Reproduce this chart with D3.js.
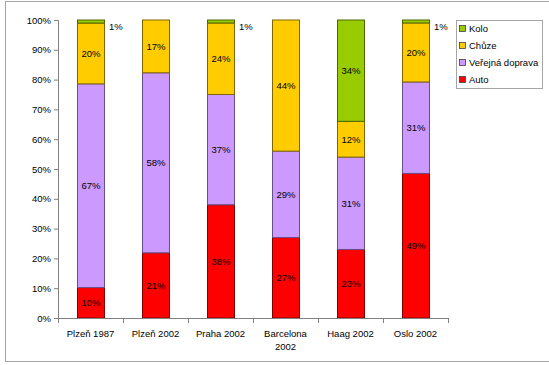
<!DOCTYPE html>
<html>
<head>
<meta charset="utf-8">
<script src="https://cdn.jsdelivr.net/npm/d3@7"></script>
<style>
  body { margin: 0; background: #fff; }
  text { font-family: "Liberation Sans", Arial, sans-serif; font-size: 9.5px; fill: #000; }
</style>
</head>
<body>
<div id="chart"></div>
<script>
// data
var cities = ["Plzeň 1987", "Plzeň 2002", "Praha 2002", "Barcelona 2002", "Haag 2002", "Oslo 2002"];
var series = ["Auto", "Veřejná doprava", "Chůze", "Kolo"];
var auto    = [10, 21, 38, 27, 23, 49];
var verejna = [67, 58, 37, 29, 31, 31];
var chuze   = [20, 17, 24, 44, 12, 20];
var kolo    = [1, 0, 1, 0, 34, 1];
var yTicks  = [0, 0.1, 0.2, 0.3, 0.4, 0.5, 0.6, 0.7, 0.8, 0.9, 1];

var colors = ["#ff0000", "#cc99ff", "#ffcc00", "#99cc00"];
var strokes = ["#800000", "#66508a", "#806600", "#4d6600"];

var W = 549, H = 365;
var margin = {top: 20, left: 58, right: 101, bottom: 47};
var width = W - margin.left - margin.right,
    height = H - margin.top - margin.bottom;

var table = cities.map(function(c, i) {
  return {city: c, "Auto": auto[i], "Veřejná doprava": verejna[i], "Chůze": chuze[i], "Kolo": kolo[i]};
});

var stack = d3.stack().keys(series).offset(d3.stackOffsetExpand);
var layers = stack(table);

var x = d3.scaleBand().domain(cities).range([0, width]).paddingInner(0.585).paddingOuter(0.2925);
var y = d3.scaleLinear().domain([0, 1]).range([height, 0]);

var svg = d3.select("#chart").append("svg")
    .attr("width", W)
    .attr("height", H);

// outer frame
svg.append("rect")
    .attr("x", 5.5).attr("y", 1.5)
    .attr("width", 560).attr("height", 360)
    .attr("fill", "none").attr("stroke", "#a6a6a6");

var g = svg.append("g")
    .attr("transform", "translate(" + margin.left + "," + margin.top + ")");

// bars
var layer = g.selectAll(".layer")
    .data(layers)
    .enter().append("g")
    .attr("class", "layer");

layer.selectAll("rect")
    .data(function(d, i) { return d.map(function(p) { return {p: p, i: i}; }); })
    .enter().append("rect")
    .attr("x", function(d) { return Math.round(x(d.p.data.city)) + 0.5; })
    .attr("width", Math.round(x.bandwidth()))
    .attr("y", function(d) { return y(d.p[1]); })
    .attr("height", function(d) { return y(d.p[0]) - y(d.p[1]); })
    .attr("fill", function(d) { return colors[d.i]; })
    .attr("stroke", function(d) { return strokes[d.i]; })
    .attr("stroke-width", function(d) { return d.p[1] - d.p[0] > 0 ? 1 : 0; });

// value labels
layer.selectAll("text")
    .data(function(d, i) {
      return d.filter(function(p) { return p.data[d.key] > 0; })
              .map(function(p) { return {p: p, key: d.key}; });
    })
    .enter().append("text")
    .attr("text-anchor", function(d) { return (d.p[1] - d.p[0]) < 0.03 ? "start" : "middle"; })
    .attr("x", function(d) {
      if ((d.p[1] - d.p[0]) < 0.03) return x(d.p.data.city) + x.bandwidth() + 5;
      return x(d.p.data.city) + x.bandwidth() / 2 + 0.5;
    })
    .attr("y", function(d) {
      if ((d.p[1] - d.p[0]) < 0.03) return y(d.p[1]) + 7;
      return (y(d.p[0]) + y(d.p[1])) / 2;
    })
    .attr("dy", "0.35em")
    .text(function(d) { return d.p.data[d.key] + "%"; });

// y axis
var yAxis = g.append("g")
    .call(d3.axisLeft(y).tickValues(yTicks).tickFormat(d3.format(".0%")).tickSize(4).tickPadding(3));
yAxis.selectAll("line, path").attr("stroke", "#808080");
yAxis.selectAll("text").style("font-size", "9.5px").attr("fill", "#000");

// x axis with ticks at category boundaries
var xAxis = g.append("g")
    .attr("transform", "translate(0," + height + ")");
xAxis.append("line")
    .attr("x1", 0).attr("x2", width).attr("y1", 0.5).attr("y2", 0.5)
    .attr("stroke", "#808080");
xAxis.selectAll(".tk")
    .data(d3.range(cities.length + 1))
    .enter().append("line")
    .attr("x1", function(i) { return Math.round(i * width / cities.length) + 0.5; })
    .attr("x2", function(i) { return Math.round(i * width / cities.length) + 0.5; })
    .attr("y1", 0).attr("y2", 5)
    .attr("stroke", "#808080");
xAxis.selectAll(".lbl")
    .data(cities)
    .enter().append("text")
    .attr("text-anchor", "middle")
    .attr("x", function(c) { return x(c) + x.bandwidth() / 2; })
    .attr("y", 19)
    .each(function(c) {
      var t = d3.select(this);
      var parts = c === "Barcelona 2002" ? ["Barcelona", "2002"] : [c];
      parts.forEach(function(s, k) {
        t.append("tspan")
          .attr("x", x(c) + x.bandwidth() / 2)
          .attr("dy", k === 0 ? 0 : 13)
          .text(s);
      });
    });

// legend
var legend = svg.append("g").attr("transform", "translate(456,20)");
legend.append("rect")
    .attr("x", 0.5).attr("y", 0.5)
    .attr("width", 86).attr("height", 68)
    .attr("fill", "#fff").attr("stroke", "#a6a6a6");
var order = series.slice().reverse();
var item = legend.selectAll(".item")
    .data(order)
    .enter().append("g")
    .attr("transform", function(d, i) { return "translate(0," + (9 + i * 17) + ")"; });
item.append("rect")
    .attr("x", 3.5).attr("y", -3.5)
    .attr("width", 6).attr("height", 6)
    .attr("fill", function(d) { return colors[series.indexOf(d)]; })
    .attr("stroke", "#404040").attr("stroke-width", 0.8);
item.append("text")
    .attr("x", 13)
    .attr("y", 0)
    .attr("dy", "0.35em")
    .text(function(d) { return d; });
</script>
</body>
</html>
